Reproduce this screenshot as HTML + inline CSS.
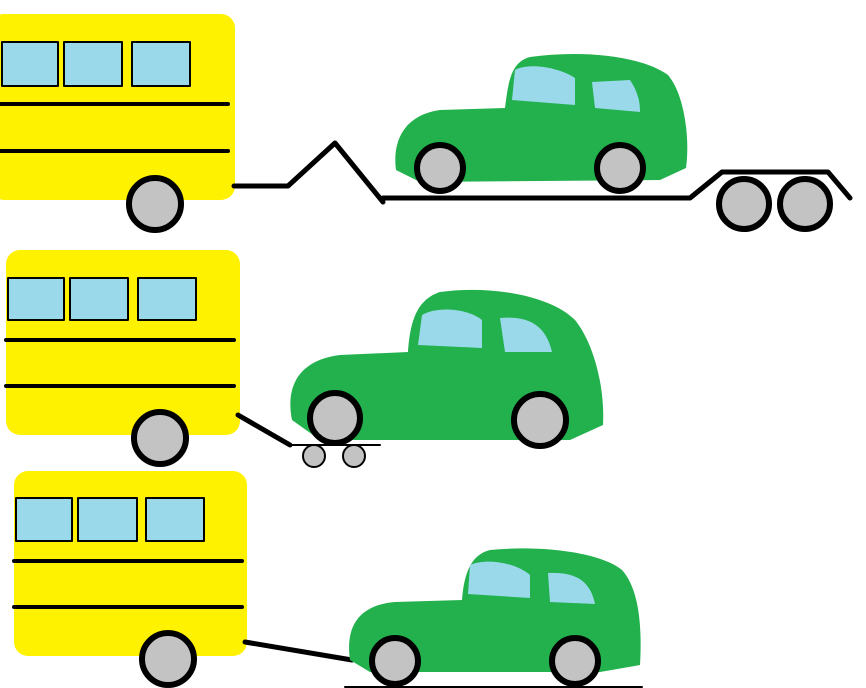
<!DOCTYPE html>
<html><head><meta charset="utf-8"><style>html,body{margin:0;padding:0;background:#fff;}svg{display:block}</style></head>
<body>
<svg width="866" height="688" viewBox="0 0 866 688" xmlns="http://www.w3.org/2000/svg">
<g stroke="#000" stroke-linecap="round" stroke-linejoin="round">
<!-- Row 1 -->
<rect x="-10" y="14" width="245" height="186" rx="14" fill="#FFF200" stroke="none"/>
<g fill="#99D9EA" stroke-width="2"><rect x="2" y="42" width="56" height="44"/><rect x="64" y="42" width="58" height="44"/><rect x="132" y="42" width="58" height="44"/></g>
<line x1="0" y1="104" x2="228" y2="104" stroke-width="4"/><line x1="0" y1="151" x2="228" y2="151" stroke-width="4"/>
<circle cx="155" cy="204" r="26" fill="#C3C3C3" stroke-width="6"/>
<polyline points="234,186 288,186 335,143 383,202" fill="none" stroke-width="5"/>
<polyline points="383,198 690,198 722,172 828,172 850,198" fill="none" stroke-width="5"/>
<path d="M396,170 C392,140 405,115 440,110 L505,108 C508,85 510,62 530,57 C580,50 640,55 668,75 C685,95 690,140 686,168 L660,180 L420,182 Z" fill="#22B14C" stroke="none"/>
<path d="M512,100 L515,70 C530,62 560,68 575,78 L575,105 Z" fill="#99D9EA" stroke="none"/>
<path d="M592,82 L630,80 C638,92 640,102 640,112 L595,108 Z" fill="#99D9EA" stroke="none"/>
<circle cx="440" cy="168" r="23" fill="#C3C3C3" stroke-width="6"/>
<circle cx="620" cy="168" r="23" fill="#C3C3C3" stroke-width="6"/>
<circle cx="744" cy="204" r="25" fill="#C3C3C3" stroke-width="6"/>
<circle cx="805" cy="204" r="25" fill="#C3C3C3" stroke-width="6"/>
<!-- Row 2 -->
<rect x="6" y="250" width="234" height="185" rx="14" fill="#FFF200" stroke="none"/>
<g fill="#99D9EA" stroke-width="2"><rect x="8" y="278" width="56" height="42"/><rect x="70" y="278" width="58" height="42"/><rect x="138" y="278" width="58" height="42"/></g>
<line x1="6" y1="340" x2="234" y2="340" stroke-width="4"/><line x1="6" y1="386" x2="234" y2="386" stroke-width="4"/>
<circle cx="160" cy="438" r="26" fill="#C3C3C3" stroke-width="6"/>
<line x1="238" y1="415" x2="290" y2="445" stroke-width="5"/>
<line x1="288" y1="445" x2="380" y2="445" stroke-width="2"/>
<circle cx="314" cy="456" r="11" fill="#C3C3C3" stroke-width="2"/>
<circle cx="354" cy="456" r="11" fill="#C3C3C3" stroke-width="2"/>
<path d="M292,420 C285,385 300,360 340,355 L408,352 C410,325 415,300 440,292 C490,285 550,295 575,320 C595,345 605,390 603,425 L570,440 L320,440 Z" fill="#22B14C" stroke="none"/>
<path d="M418,345 L422,315 C440,305 470,310 482,320 L482,348 Z" fill="#99D9EA" stroke="none"/>
<path d="M500,318 C525,316 545,322 552,352 L505,352 Z" fill="#99D9EA" stroke="none"/>
<circle cx="335" cy="418" r="25" fill="#C3C3C3" stroke-width="6"/>
<circle cx="540" cy="420" r="26" fill="#C3C3C3" stroke-width="6"/>
<!-- Row 3 -->
<rect x="14" y="471" width="233" height="185" rx="14" fill="#FFF200" stroke="none"/>
<g fill="#99D9EA" stroke-width="2"><rect x="16" y="498" width="56" height="43"/><rect x="78" y="498" width="59" height="43"/><rect x="146" y="498" width="58" height="43"/></g>
<line x1="14" y1="561" x2="242" y2="561" stroke-width="4"/><line x1="14" y1="607" x2="242" y2="607" stroke-width="4"/>
<circle cx="168" cy="659" r="26" fill="#C3C3C3" stroke-width="6"/>
<line x1="245" y1="642" x2="352" y2="660" stroke-width="5"/>
<path d="M350,660 C345,625 360,605 395,602 L462,600 C464,575 470,555 490,550 C540,545 600,552 622,570 C640,590 642,630 640,665 L600,672 L370,672 Z" fill="#22B14C" stroke="none"/>
<path d="M468,594 L470,565 C485,558 515,562 530,575 L530,598 Z" fill="#99D9EA" stroke="none"/>
<path d="M548,573 C575,572 590,580 595,604 L550,602 Z" fill="#99D9EA" stroke="none"/>
<circle cx="395" cy="661" r="23" fill="#C3C3C3" stroke-width="6"/>
<circle cx="575" cy="661" r="23" fill="#C3C3C3" stroke-width="6"/>
<line x1="345" y1="687" x2="642" y2="687" stroke-width="2"/>
</g>
</svg>
</body></html>
